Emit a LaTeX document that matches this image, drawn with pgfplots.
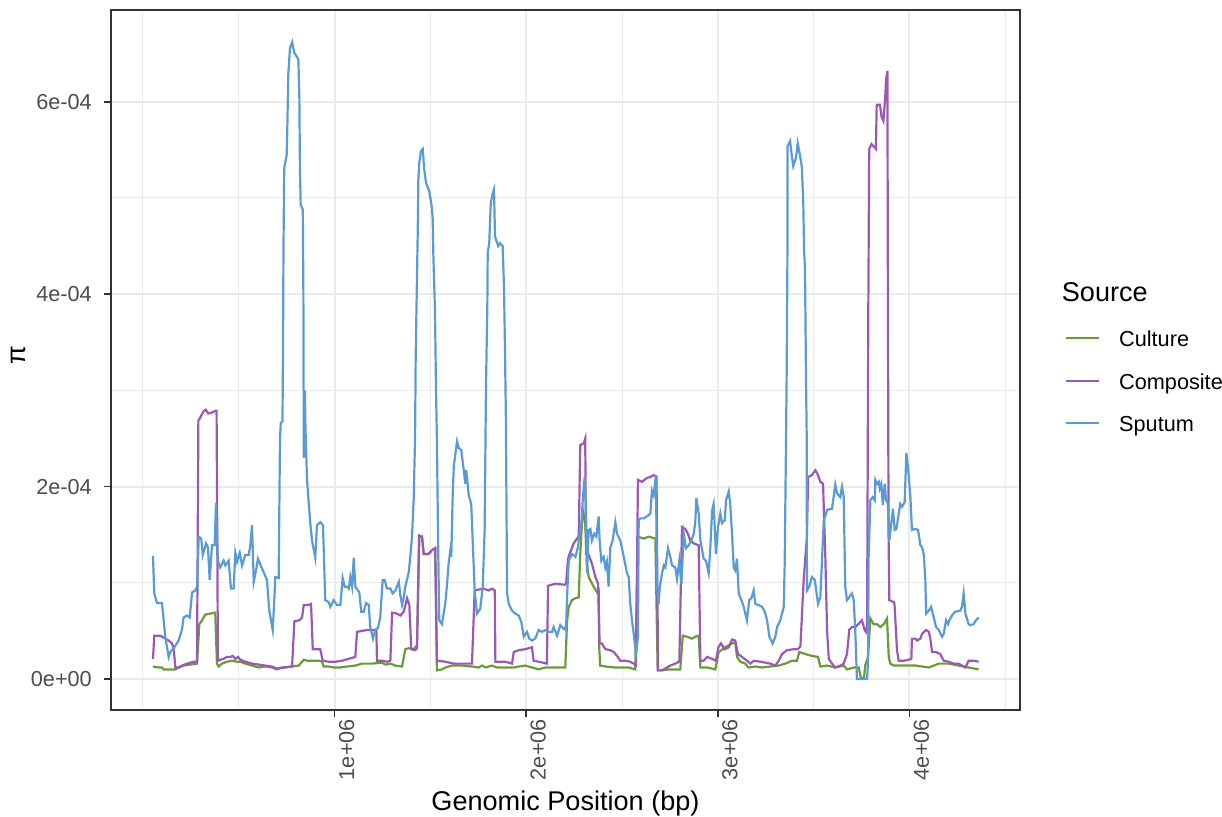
\documentclass[border=0pt]{standalone}
\usepackage{pgfplots}
\pgfplotsset{compat=1.18}
\usepackage{fontspec}
\setmainfont{Liberation Sans}

\definecolor{culture}{HTML}{6B9A3A}
\definecolor{composite}{HTML}{9B59B6}
\definecolor{sputum}{HTML}{5B9BD5}
\definecolor{gridgray}{HTML}{EBEBEB}
\definecolor{gray20}{HTML}{333333}
\definecolor{gray30}{HTML}{4D4D4D}

\newcommand{\ticksize}{\fontsize{10.84}{13}\selectfont}
\newcommand{\titlesize}{\fontsize{13.55}{16}\selectfont}

\begin{document}
\begin{tikzpicture}
\path[use as bounding box] (0,0) rectangle (611pt,408pt);
\begin{axis}[
    at={(55.5pt,53pt)}, anchor=south west,
    scale only axis,
    width=454.5pt, height=350pt,
    clip mode=individual,
    xmin=-167000, xmax=4577000,
    ymin=-0.322e-4, ymax=6.954e-4,
    xtick={1000000,2000000,3000000,4000000},
    xticklabels={1e+06,2e+06,3e+06,4e+06},
    minor xtick={0,500000,1500000,2500000,3500000,4500000},
    ytick={0,2e-4,4e-4,6e-4},
    yticklabels={0e+00,2e-04,4e-04,6e-04},
    minor ytick={1e-4,3e-4,5e-4},
    scaled x ticks=false, scaled y ticks=false,
    grid=both,
    major grid style={gridgray, line width=1.0pt},
    minor grid style={gridgray, line width=0.5pt},
    tick align=outside,
    major tick length=3.4pt,
    minor tick length=0pt,
    tick style={gray20, line width=0.8pt},
    axis line style={gray20, line width=0.8pt},
    xtick pos=bottom, ytick pos=left,
    xticklabel style={font=\ticksize, text=gray30, rotate=90, anchor=east, inner sep=0pt, yshift=-6pt, xshift=-1pt},
    yticklabel style={font=\ticksize, text=gray30, anchor=east, inner sep=0pt, xshift=-6pt},
    xlabel={Genomic Position (bp)},
    xlabel style={font=\titlesize, at={(axis description cs:0.5,-0.144)}, anchor=base, inner sep=0pt},
    ylabel={π},
    ylabel style={font=\titlesize, at={(axis description cs:-0.1023,0.507)}, anchor=center, inner sep=0pt},
    legend style={at={(rel axis cs:1.0495,0.5419)}, anchor=north west, draw=none, fill=none,
        inner sep=0pt, outer sep=0pt, row sep=10.75pt, font=\ticksize,
        nodes={inner sep=0pt, text height=8pt, text depth=2.5pt, anchor=base west},
        /tikz/every odd column/.append style={column sep=9.5pt}},
    legend cell align=left,
    legend image code/.code={\draw[#1] (0pt,4.2pt) -- (16.5pt,4.2pt);},
    every axis plot/.append style={line width=1.1pt},
]
\addplot[culture] coordinates {
(52000,1.3e-5) (82000,1.2e-5) (99000,1.2e-5) (108000,1.0e-5) (125000,1.0e-5) (151000,1.0e-5)
(169000,1.0e-5) (186000,1.2e-5) (212000,1.4e-5) (247000,1.5e-5) (282000,1.6e-5) (294000,5.7e-5)
(308000,6.1e-5) (325000,6.7e-5) (351000,6.8e-5) (377000,6.9e-5) (386000,1.6e-5) (395000,1.3e-5)
(412000,1.6e-5) (438000,1.8e-5) (464000,1.9e-5) (491000,1.8e-5) (508000,1.8e-5) (534000,1.6e-5)
(569000,1.4e-5) (604000,1.2e-5) (638000,1.3e-5) (673000,1.2e-5) (699000,1.0e-5) (725000,1.2e-5)
(778000,1.3e-5) (813000,1.4e-5) (839000,2.0e-5) (856000,1.9e-5) (882000,1.9e-5) (917000,1.9e-5)
(934000,1.8e-5) (943000,1.3e-5) (969000,1.3e-5) (995000,1.2e-5) (1030000,1.2e-5) (1065000,1.3e-5)
(1108000,1.4e-5) (1143000,1.6e-5) (1195000,1.6e-5) (1247000,1.7e-5) (1265000,1.5e-5) (1291000,1.6e-5)
(1317000,1.4e-5) (1352000,1.3e-5) (1369000,3.1e-5) (1387000,3.2e-5) (1413000,3.1e-5) (1430000,3.5e-5)
(1442000,1.49e-4) (1456000,1.48e-4) (1465000,1.30e-4) (1491000,1.30e-4) (1508000,1.34e-4) (1525000,1.36e-4)
(1534000,0.9e-5) (1560000,1.0e-5) (1578000,1.2e-5) (1613000,1.4e-5) (1665000,1.4e-5) (1717000,1.3e-5)
(1752000,1.2e-5) (1769000,1.4e-5) (1790000,1.2e-5) (1821000,1.4e-5) (1847000,1.2e-5) (1883000,1.2e-5)
(1935000,1.2e-5) (1961000,1.3e-5) (1995000,1.4e-5) (2030000,1.2e-5) (2065000,1.0e-5) (2100000,1.2e-5)
(2169000,1.2e-5) (2204000,1.2e-5) (2213000,6.0e-5) (2222000,7.5e-5) (2239000,8.2e-5) (2257000,8.4e-5)
(2274000,8.5e-5) (2282000,1.30e-4) (2295000,1.76e-4) (2308000,1.62e-4) (2317000,1.20e-4) (2326000,1.06e-4)
(2352000,9.6e-5) (2370000,9.0e-5) (2378000,9.2e-5) (2381000,3.3e-5) (2386000,1.4e-5) (2413000,1.3e-5)
(2465000,1.2e-5) (2500000,1.2e-5) (2535000,1.2e-5) (2569000,1.0e-5) (2583000,1.48e-4) (2613000,1.46e-4)
(2639000,1.48e-4) (2656000,1.47e-4) (2674000,1.46e-4) (2686000,0.9e-5) (2709000,0.9e-5) (2744000,1.0e-5)
(2778000,1.0e-5) (2804000,1.0e-5) (2817000,4.5e-5) (2839000,4.4e-5) (2865000,4.2e-5) (2882000,4.4e-5)
(2900000,4.5e-5) (2909000,1.2e-5) (2944000,1.2e-5) (2987000,1.0e-5) (3004000,2.8e-5) (3039000,3.3e-5)
(3074000,3.7e-5) (3091000,3.8e-5) (3100000,2.3e-5) (3117000,1.8e-5) (3143000,1.6e-5) (3161000,1.2e-5)
(3196000,1.3e-5) (3231000,1.2e-5) (3274000,1.3e-5) (3318000,1.4e-5) (3352000,1.6e-5) (3387000,1.9e-5)
(3413000,1.9e-5) (3425000,2.8e-5) (3457000,2.6e-5) (3491000,2.4e-5) (3523000,2.3e-5) (3535000,1.3e-5)
(3570000,1.4e-5) (3613000,1.2e-5) (3657000,1.4e-5) (3674000,1.0e-5) (3709000,1.2e-5) (3735000,1.2e-5)
(3747000,0.1e-5) (3763000,0.1e-5) (3769000,1.4e-5) (3784000,2.3e-5) (3796000,6.3e-5) (3813000,5.7e-5)
(3831000,5.7e-5) (3848000,5.4e-5) (3866000,5.7e-5) (3883000,6.3e-5) (3892000,2.3e-5) (3900000,1.6e-5)
(3918000,1.4e-5) (3996000,1.4e-5) (4031000,1.4e-5) (4101000,1.2e-5) (4153000,1.6e-5) (4205000,1.6e-5)
(4257000,1.4e-5) (4309000,1.2e-5) (4361000,1.0e-5)
};
\addlegendentry{Culture}
\addplot[composite] coordinates {
(52000,2.1e-5) (59000,4.5e-5) (90000,4.5e-5) (116000,4.2e-5) (134000,4.0e-5) (151000,3.7e-5)
(160000,3.2e-5) (169000,1.2e-5) (186000,1.2e-5) (204000,1.4e-5) (230000,1.6e-5) (265000,1.8e-5)
(282000,1.8e-5) (289000,2.69e-4) (297000,2.71e-4) (315000,2.78e-4) (327000,2.80e-4) (341000,2.76e-4)
(359000,2.77e-4) (379000,2.79e-4) (384000,2.79e-4) (391000,1.9e-5) (403000,2.0e-5) (421000,2.1e-5)
(438000,2.3e-5) (456000,2.3e-5) (468000,2.4e-5) (482000,2.1e-5) (496000,2.3e-5) (508000,2.0e-5)
(534000,1.8e-5) (569000,1.6e-5) (604000,1.5e-5) (638000,1.4e-5) (673000,1.3e-5) (699000,1.1e-5)
(743000,1.2e-5) (778000,1.3e-5) (790000,6.0e-5) (816000,6.1e-5) (830000,6.4e-5) (839000,7.7e-5)
(865000,7.7e-5) (877000,7.8e-5) (886000,3.1e-5) (925000,3.1e-5) (938000,1.9e-5) (969000,1.8e-5)
(1004000,1.8e-5) (1039000,1.9e-5) (1074000,2.1e-5) (1108000,2.3e-5) (1117000,4.9e-5) (1169000,5.1e-5)
(1218000,5.1e-5) (1221000,1.9e-5) (1247000,1.9e-5) (1273000,1.8e-5) (1291000,1.9e-5) (1300000,6.9e-5)
(1326000,6.8e-5) (1343000,6.6e-5) (1361000,7.0e-5) (1378000,8.4e-5) (1390000,7.7e-5) (1400000,3.1e-5)
(1421000,3.0e-5) (1430000,3.2e-5) (1441000,1.49e-4) (1456000,1.48e-4) (1465000,1.30e-4) (1491000,1.30e-4)
(1508000,1.34e-4) (1525000,1.36e-4) (1534000,1.9e-5) (1578000,1.8e-5) (1622000,1.6e-5) (1665000,1.6e-5)
(1717000,1.6e-5) (1731000,9.2e-5) (1752000,9.3e-5) (1778000,9.4e-5) (1804000,9.2e-5) (1821000,9.4e-5)
(1836000,9.2e-5) (1839000,1.8e-5) (1890000,1.8e-5) (1926000,1.6e-5) (1935000,2.8e-5) (1961000,3.0e-5)
(1995000,3.1e-5) (2030000,3.3e-5) (2039000,1.9e-5) (2065000,1.8e-5) (2108000,1.6e-5) (2114000,9.7e-5)
(2152000,9.9e-5) (2201000,9.8e-5) (2208000,9.9e-5) (2218000,1.25e-4) (2230000,1.32e-4) (2248000,1.41e-4)
(2265000,1.46e-4) (2274000,1.48e-4) (2282000,2.43e-4) (2300000,2.45e-4) (2308000,2.50e-4) (2312000,1.30e-4)
(2326000,1.29e-4) (2343000,1.20e-4) (2361000,1.06e-4) (2375000,9.9e-5) (2383000,3.7e-5) (2395000,3.7e-5)
(2413000,3.1e-5) (2439000,3.0e-5) (2457000,2.8e-5) (2474000,2.4e-5) (2491000,1.9e-5) (2517000,1.9e-5)
(2543000,1.8e-5) (2561000,1.6e-5) (2573000,1.4e-5) (2583000,2.07e-4) (2604000,2.05e-4) (2630000,2.09e-4)
(2648000,2.10e-4) (2665000,2.12e-4) (2680000,2.10e-4) (2688000,0.9e-5) (2709000,0.9e-5) (2735000,1.2e-5)
(2752000,1.4e-5) (2778000,1.6e-5) (2799000,1.8e-5) (2813000,1.58e-4) (2830000,1.56e-4) (2844000,1.51e-4)
(2856000,1.44e-4) (2874000,1.41e-4) (2900000,1.39e-4) (2909000,1.9e-5) (2926000,1.9e-5) (2944000,2.3e-5)
(2970000,2.1e-5) (2990000,1.9e-5) (3003000,3.3e-5) (3016000,3.7e-5) (3036000,3.1e-5) (3057000,3.3e-5)
(3074000,4.1e-5) (3091000,4.0e-5) (3105000,2.6e-5) (3126000,2.3e-5) (3152000,1.9e-5) (3170000,1.6e-5)
(3187000,1.9e-5) (3222000,1.8e-5) (3274000,1.6e-5) (3300000,1.4e-5) (3318000,1.9e-5) (3335000,2.6e-5)
(3361000,3.0e-5) (3396000,3.1e-5) (3418000,3.1e-5) (3431000,3.4e-5) (3448000,1.03e-4) (3465000,1.48e-4)
(3471000,2.10e-4) (3491000,2.12e-4) (3509000,2.17e-4) (3523000,2.12e-4) (3535000,2.05e-4) (3549000,2.03e-4)
(3561000,1.27e-4) (3570000,5.1e-5) (3579000,2.1e-5) (3596000,1.6e-5) (3613000,1.2e-5) (3639000,1.4e-5)
(3657000,1.6e-5) (3674000,2.6e-5) (3686000,5.1e-5) (3700000,5.4e-5) (3717000,5.4e-5) (3733000,5.7e-5)
(3752000,6.1e-5) (3766000,5.1e-5) (3773000,4.9e-5) (3779000,5.6e-5) (3785000,3.73e-4) (3790000,5.51e-4)
(3802000,5.56e-4) (3811000,5.54e-4) (3825000,5.51e-4) (3829000,5.96e-4) (3832000,5.97e-4) (3846000,5.97e-4)
(3855000,5.84e-4) (3864000,5.80e-4) (3873000,6.03e-4) (3878000,6.23e-4) (3885000,6.32e-4) (3887000,4.50e-4)
(3891000,1.50e-4) (3895000,8.2e-5) (3918000,8.0e-5) (3922000,7.8e-5) (3935000,3.0e-5) (3944000,1.9e-5)
(3970000,1.9e-5) (3996000,2.0e-5) (4010000,2.1e-5) (4013000,4.2e-5) (4031000,4.2e-5) (4040000,4.0e-5)
(4057000,4.2e-5) (4066000,4.7e-5) (4087000,5.1e-5) (4101000,4.9e-5) (4109000,4.2e-5) (4118000,2.8e-5)
(4139000,2.8e-5) (4161000,2.6e-5) (4179000,1.9e-5) (4205000,1.8e-5) (4231000,1.6e-5) (4257000,1.6e-5)
(4274000,1.4e-5) (4292000,1.2e-5) (4309000,1.9e-5) (4335000,1.9e-5) (4361000,1.8e-5)
};
\addlegendentry{Composite}
\addplot[sputum] coordinates {
(52000,1.28e-4) (59000,8.9e-5) (73000,7.9e-5) (99000,7.9e-5) (108000,6.1e-5) (116000,4.4e-5)
(134000,2.3e-5) (142000,2.8e-5) (160000,3.2e-5) (186000,4.0e-5) (204000,5.2e-5) (212000,6.4e-5)
(230000,6.6e-5) (244000,6.4e-5) (256000,9.0e-5) (273000,9.2e-5) (282000,9.6e-5) (291000,1.48e-4)
(304000,1.46e-4) (312000,1.29e-4) (329000,1.41e-4) (339000,1.37e-4) (348000,1.03e-4) (360000,1.39e-4)
(374000,1.39e-4) (381000,1.83e-4) (391000,1.23e-4) (403000,1.16e-4) (421000,1.23e-4) (430000,1.18e-4)
(447000,1.23e-4) (459000,9.4e-5) (473000,9.4e-5) (482000,1.31e-4) (491000,1.22e-4) (505000,1.31e-4)
(517000,1.18e-4) (534000,1.29e-4) (552000,1.29e-4) (560000,1.39e-4) (569000,1.60e-4) (578000,1.01e-4)
(590000,1.13e-4) (600000,1.25e-4) (621000,1.15e-4) (647000,1.03e-4) (659000,7.1e-5) (677000,5.1e-5)
(687000,8.9e-5) (690000,1.06e-4) (708000,1.05e-4) (715000,2.50e-4) (719000,2.66e-4) (728000,2.68e-4)
(731000,3.53e-4) (733000,4.43e-4) (737000,5.31e-4) (750000,5.45e-4) (753000,5.71e-4) (758000,6.27e-4)
(767000,6.56e-4) (779000,6.62e-4) (784000,6.56e-4) (790000,6.51e-4) (811000,6.44e-4) (816000,6.04e-4)
(819000,5.31e-4) (823000,4.93e-4) (834000,4.88e-4) (837000,4.01e-4) (838000,3.14e-4) (839000,2.30e-4)
(845000,3.00e-4) (848000,2.60e-4) (856000,2.07e-4) (873000,1.62e-4) (882000,1.44e-4) (899000,1.26e-4)
(908000,1.60e-4) (925000,1.63e-4) (939000,1.60e-4) (943000,1.37e-4) (951000,8.2e-5) (969000,8.0e-5)
(978000,7.5e-5) (995000,8.2e-5) (1012000,7.7e-5) (1030000,7.7e-5) (1042000,1.05e-4) (1053000,9.6e-5)
(1065000,9.6e-5) (1074000,9.4e-5) (1082000,1.06e-4) (1091000,9.6e-5) (1100000,1.26e-4) (1108000,9.6e-5)
(1129000,9.0e-5) (1139000,7.0e-5) (1152000,7.0e-5) (1164000,7.9e-5) (1178000,7.7e-5) (1186000,5.4e-5)
(1200000,4.2e-5) (1212000,5.1e-5) (1226000,5.3e-5) (1238000,6.4e-5) (1251000,1.03e-4) (1261000,1.03e-4)
(1273000,9.4e-5) (1291000,9.4e-5) (1303000,8.9e-5) (1317000,9.2e-5) (1335000,1.01e-4) (1343000,8.7e-5)
(1352000,7.7e-5) (1361000,8.5e-5) (1369000,9.6e-5) (1387000,1.11e-4) (1395000,1.27e-4) (1404000,1.48e-4)
(1413000,1.89e-4) (1420000,2.52e-4) (1423000,3.32e-4) (1428000,3.94e-4) (1434000,4.67e-4) (1437000,5.19e-4)
(1442000,5.37e-4) (1451000,5.49e-4) (1460000,5.51e-4) (1467000,5.31e-4) (1477000,5.16e-4) (1494000,5.07e-4)
(1507000,4.91e-4) (1512000,4.78e-4) (1515000,4.43e-4) (1524000,3.81e-4) (1529000,3.04e-4) (1534000,2.48e-4)
(1540000,1.44e-4) (1546000,6.1e-5) (1560000,5.7e-5) (1578000,7.9e-5) (1587000,9.9e-5) (1595000,1.20e-4)
(1604000,1.34e-4) (1609000,1.27e-4) (1616000,1.89e-4) (1622000,2.21e-4) (1639000,2.47e-4) (1648000,2.40e-4)
(1661000,2.38e-4) (1674000,2.17e-4) (1682000,2.03e-4) (1687000,2.17e-4) (1700000,1.91e-4) (1713000,1.82e-4)
(1722000,1.37e-4) (1731000,9.2e-5) (1743000,6.8e-5) (1760000,7.3e-5) (1773000,9.6e-5) (1783000,1.55e-4)
(1790000,3.04e-4) (1797000,3.87e-4) (1799000,4.43e-4) (1807000,4.53e-4) (1815000,4.95e-4) (1825000,5.05e-4)
(1832000,5.09e-4) (1837000,4.60e-4) (1854000,4.50e-4) (1863000,4.53e-4) (1877000,4.50e-4) (1884000,4.08e-4)
(1889000,3.46e-4) (1894000,2.69e-4) (1900000,8.9e-5) (1909000,7.8e-5) (1926000,7.1e-5) (1943000,6.8e-5)
(1961000,6.6e-5) (1975000,5.9e-5) (1987000,4.4e-5) (2004000,4.9e-5) (2016000,4.2e-5) (2030000,4.0e-5)
(2047000,4.2e-5) (2065000,5.1e-5) (2082000,4.9e-5) (2100000,5.1e-5) (2117000,4.9e-5) (2135000,4.9e-5)
(2143000,5.4e-5) (2161000,4.5e-5) (2178000,5.6e-5) (2196000,5.2e-5) (2204000,5.4e-5) (2208000,5.1e-5)
(2213000,8.5e-5) (2222000,1.23e-4) (2239000,1.30e-4) (2257000,1.27e-4) (2270000,1.37e-4) (2277000,1.48e-4)
(2288000,1.62e-4) (2296000,1.89e-4) (2305000,2.10e-4) (2312000,1.76e-4) (2317000,1.10e-4) (2326000,1.55e-4)
(2335000,1.56e-4) (2343000,1.44e-4) (2355000,1.51e-4) (2366000,1.48e-4) (2378000,1.69e-4) (2383000,1.44e-4)
(2392000,1.23e-4) (2404000,1.27e-4) (2413000,1.16e-4) (2421000,1.22e-4) (2430000,9.6e-5) (2439000,1.37e-4)
(2451000,1.44e-4) (2465000,1.63e-4) (2474000,1.51e-4) (2491000,1.44e-4) (2509000,1.27e-4) (2526000,1.10e-4)
(2535000,1.06e-4) (2543000,7.8e-5) (2552000,6.1e-5) (2561000,4.7e-5) (2573000,2.6e-5) (2583000,4.4e-5)
(2587000,1.65e-4) (2595000,1.67e-4) (2613000,1.67e-4) (2630000,1.69e-4) (2648000,1.72e-4) (2656000,1.96e-4)
(2665000,1.91e-4) (2677000,2.12e-4) (2683000,9.6e-5) (2691000,7.8e-5) (2697000,9.6e-5) (2709000,1.10e-4)
(2718000,1.18e-4) (2726000,1.16e-4) (2740000,1.36e-4) (2752000,1.27e-4) (2761000,1.18e-4) (2778000,1.16e-4)
(2787000,1.04e-4) (2799000,1.23e-4) (2810000,9.9e-5) (2822000,1.51e-4) (2834000,1.36e-4) (2848000,1.39e-4)
(2862000,1.44e-4) (2874000,1.51e-4) (2882000,1.62e-4) (2888000,1.88e-4) (2900000,1.72e-4) (2909000,1.44e-4)
(2926000,1.25e-4) (2938000,1.23e-4) (2952000,1.10e-4) (2961000,1.37e-4) (2970000,1.75e-4) (2978000,1.82e-4)
(2987000,1.44e-4) (2990000,1.30e-4) (3001000,1.58e-4) (3013000,1.72e-4) (3022000,1.62e-4) (3036000,1.65e-4)
(3043000,1.86e-4) (3057000,1.95e-4) (3065000,1.82e-4) (3074000,1.51e-4) (3083000,1.16e-4) (3091000,1.13e-4)
(3100000,1.25e-4) (3109000,8.9e-5) (3123000,8.2e-5) (3135000,7.5e-5) (3152000,6.1e-5) (3164000,8.2e-5)
(3175000,8.4e-5) (3187000,9.2e-5) (3196000,7.8e-5) (3213000,7.7e-5) (3231000,7.5e-5) (3245000,7.0e-5)
(3257000,6.1e-5) (3269000,4.4e-5) (3286000,3.7e-5) (3300000,4.4e-5) (3309000,5.4e-5) (3326000,6.1e-5)
(3344000,7.5e-5) (3349000,1.20e-4) (3356000,2.50e-4) (3359000,3.11e-4) (3363000,4.33e-4) (3364000,5.54e-4)
(3377000,5.59e-4) (3386000,5.44e-4) (3394000,5.33e-4) (3408000,5.42e-4) (3417000,5.57e-4) (3429000,5.44e-4)
(3438000,5.33e-4) (3446000,4.95e-4) (3450000,4.46e-4) (3455000,4.26e-4) (3460000,3.14e-4) (3464000,2.50e-4)
(3465000,9.2e-5) (3477000,9.6e-5) (3491000,1.06e-4) (3506000,1.03e-4) (3523000,7.8e-5) (3535000,8.5e-5)
(3553000,1.65e-4) (3571000,1.76e-4) (3596000,1.77e-4) (3613000,2.02e-4) (3622000,1.93e-4) (3639000,1.89e-4)
(3648000,2.00e-4) (3657000,1.89e-4) (3665000,9.6e-5) (3674000,8.2e-5) (3683000,8.4e-5) (3691000,8.7e-5)
(3700000,8.9e-5) (3709000,8.2e-5) (3717000,5.2e-5) (3726000,0) (3773000,0) (3779000,0)
(3784000,1.9e-5) (3787000,1.27e-4) (3796000,1.86e-4) (3808000,1.89e-4) (3819000,1.86e-4) (3822000,2.07e-4)
(3831000,2.03e-4) (3840000,2.05e-4) (3845000,1.98e-4) (3853000,2.03e-4) (3861000,1.81e-4) (3871000,2.03e-4)
(3878000,1.86e-4) (3888000,1.82e-4) (3895000,1.44e-4) (3906000,1.63e-4) (3914000,1.77e-4) (3923000,1.55e-4)
(3932000,1.56e-4) (3944000,1.72e-4) (3952000,1.82e-4) (3961000,1.79e-4) (3975000,1.84e-4) (3984000,2.35e-4)
(3993000,2.19e-4) (4005000,1.89e-4) (4013000,1.55e-4) (4031000,1.56e-4) (4045000,1.55e-4) (4057000,1.39e-4)
(4066000,1.37e-4) (4075000,1.29e-4) (4083000,1.03e-4) (4087000,6.8e-5) (4101000,7.1e-5) (4113000,7.5e-5)
(4127000,6.4e-5) (4139000,5.4e-5) (4153000,5.1e-5) (4170000,4.4e-5) (4179000,4.7e-5) (4191000,6.1e-5)
(4201000,5.7e-5) (4208000,6.1e-5) (4222000,6.6e-5) (4239000,7.0e-5) (4265000,7.1e-5) (4274000,7.5e-5)
(4283000,8.9e-5) (4292000,6.8e-5) (4309000,5.7e-5) (4318000,5.6e-5) (4335000,5.7e-5) (4347000,6.1e-5)
(4361000,6.4e-5)
};
\addlegendentry{Sputum}
\end{axis}
\node[font=\titlesize, anchor=base west, inner sep=0pt] at (530.75pt,257.25pt) {Source};
\end{tikzpicture}
\end{document}
